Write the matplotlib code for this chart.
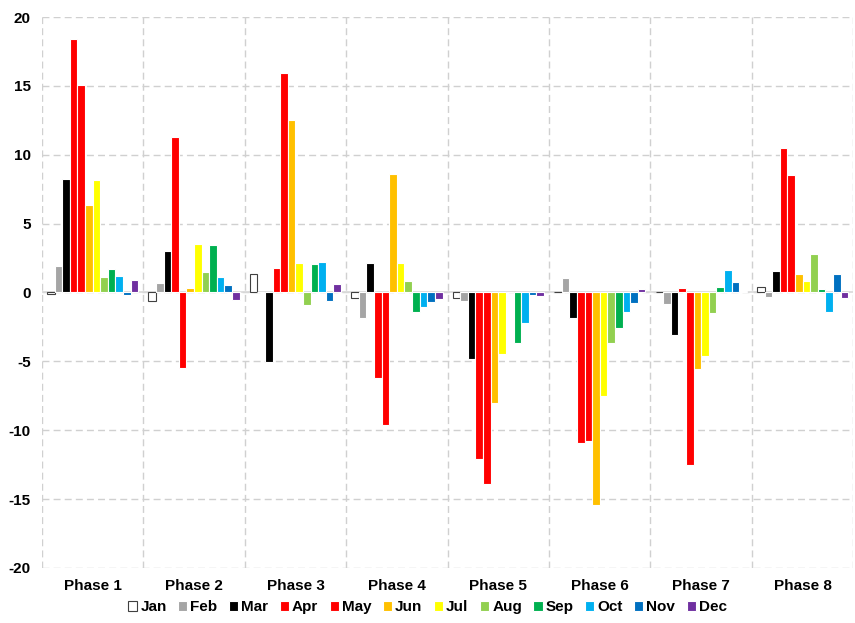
import numpy as np
import matplotlib.pyplot as plt

plt.rcParams['font.family'] = ['Liberation Sans', 'DejaVu Sans']
plt.rcParams['axes.unicode_minus'] = False

phases = ['Phase 1', 'Phase 2', 'Phase 3', 'Phase 4', 'Phase 5', 'Phase 6', 'Phase 7', 'Phase 8']
months = ['Jan', 'Feb', 'Mar', 'Apr', 'May', 'Jun', 'Jul', 'Aug', 'Sep', 'Oct', 'Nov', 'Dec']
colors = ['white', '#A5A5A5', '#000000', '#FF0000', '#FF0000', '#FFC000',
          '#FFFF00', '#92D050', '#00B050', '#00B0F0', '#0070C0', '#7030A0']

# one list per month, values for Phase 1..8
jan = [-0.1, -0.65, 1.35, -0.4, -0.4, 0.0, 0.05, 0.4]
feb = [1.95, 0.68, 0.05, -1.83, -0.6, 1.07, -0.82, -0.31]
mar = [8.25, 3.03, -5.06, 2.15, -4.8, -1.84, -3.05, 1.55]
apr = [18.4, 11.3, 1.8, -6.24, -12.1, -10.9, 0.34, 10.5]
may = [15.04, -5.5, 15.94, -9.6, -13.9, -10.8, -12.5, 8.54]
jun = [6.36, 0.34, 12.55, 8.6, -8.05, -15.4, -5.54, 1.36]
jul = [8.15, 3.53, 2.15, 2.12, -4.45, -7.55, -4.64, 0.82]
aug = [1.1, 1.5, -0.9, 0.8, 0.0, -3.7, -1.47, 2.83]
sep = [1.67, 3.46, 2.08, -1.43, -3.63, -2.6, 0.39, 0.29]
octo = [1.23, 1.13, 2.25, -1.07, -2.18, -1.38, 1.65, -1.4]
nov = [-0.2, 0.55, -0.6, -0.7, -0.17, -0.78, 0.73, 1.33]
dec = [0.89, -0.52, 0.6, -0.5, -0.27, 0.27, 0.12, -0.39]
series = [jan, feb, mar, apr, may, jun, jul, aug, sep, octo, nov, dec]

fig = plt.figure(figsize=(8.55, 6.23), dpi=100)
ax = fig.add_axes([0.049, 0.0883, 0.949, 0.8844])

x = np.arange(len(phases))
n = len(months)
group = 0.9
w = group / n
for k, (m, vals) in enumerate(zip(months, series)):
    off = -group / 2 + w * (k + 0.5)
    ec = '#404040' if k == 0 else 'white'
    ax.bar(x + off, vals, width=w, color=colors[k], edgecolor=ec,
           linewidth=0.8, label=m, zorder=3)

ax.axhline(0, color='#D9D9D9', lw=1.2, zorder=2)

ax.set_xlim(-0.5, len(phases) - 0.5)
ax.set_ylim(-20, 20)
ax.set_yticks(np.arange(-20, 21, 5))
ax.set_xticks(x)
ax.set_xticklabels(phases, fontweight='bold', fontsize=11)
ax.set_xticks(np.arange(-0.5, len(phases), 1), minor=True)
ax.tick_params(axis='both', which='both', length=0)
ax.tick_params(axis='y', labelsize=11, pad=8)
ax.tick_params(axis='x', pad=8)
for t in ax.get_yticklabels():
    t.set_fontweight('bold')

ax.grid(axis='y', which='major', color='#D0D0D0', ls=(0, (5, 3)), lw=1, zorder=0)
ax.grid(axis='x', which='minor', color='#D0D0D0', ls=(0, (5, 3)), lw=1, zorder=0)
for s in ['top', 'right', 'bottom', 'left']:
    ax.spines[s].set_visible(False)

fig.legend(loc='center', bbox_to_anchor=(0.5, 0.025), ncol=12, frameon=False,
           prop={'weight': 'bold', 'size': 11}, handlelength=0.6, handleheight=0.6,
           handletextpad=0.2, columnspacing=0.75)

fig.savefig('out.png', dpi=100)
